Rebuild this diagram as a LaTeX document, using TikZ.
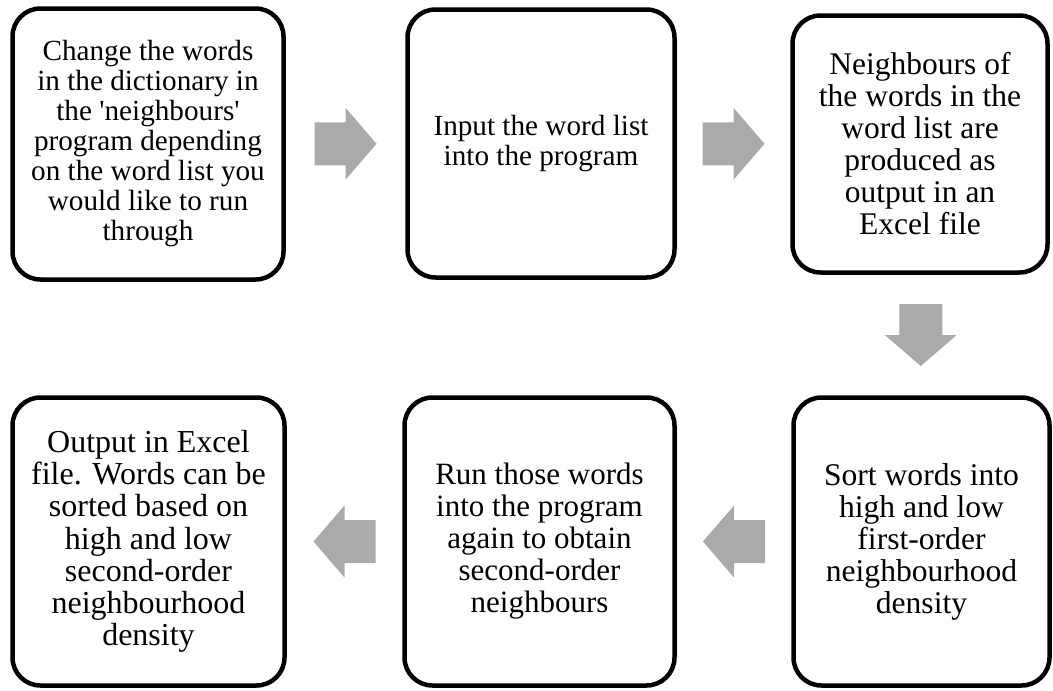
\documentclass[tikz,border=0pt]{standalone}
\usepackage{fontspec}
\setmainfont{Liberation Serif}
\usetikzlibrary{calc}

\begin{document}
\begin{tikzpicture}[x=1pt,y=-1pt,
  stepbox/.style={draw,line width=4.5pt,rounded corners=28pt,align=center,inner sep=0pt},
  blockarrow/.pic={\fill[arrowgray] (-31,-21.5) -- (0,-21.5) -- (0,-36) -- (31,0)
    -- (0,36) -- (0,21.5) -- (-31,21.5) -- cycle;}]
\definecolor{arrowgray}{HTML}{AAAAAA}
\useasboundingbox (0,0) rectangle (1053,691);
\node [stepbox,minimum width=271pt,minimum height=271pt,font=\fontsize{29.2}{30}\selectfont] (change) at (148,144)
  {Change the words\\in the dictionary in\\the \textquotesingle neighbours\textquotesingle\\program depending\\on the word list you\\would like to run\\through};
\node [stepbox,minimum width=267pt,minimum height=268pt,font=\fontsize{29.2}{29.5}\selectfont] (input) at (541,143.5)
  {Input the word list\\into the program};
\node [stepbox,minimum width=255pt,minimum height=257pt,font=\fontsize{31.5}{32}\selectfont] (neighbours) at (920,144)
  {Neighbours of\\the words in the\\word list are\\produced as\\output in an\\Excel file};
\node [stepbox,minimum width=256pt,minimum height=288pt,font=\fontsize{31.6}{32}\selectfont] (sortwords) at (921.5,541.5)
  {Sort words into\\high and low\\first-order\\neighbourhood\\density};
\node [stepbox,minimum width=270pt,minimum height=288pt,font=\fontsize{31}{32}\selectfont] (rerun) at (539.5,541.5)
  {Run those words\\into the program\\again to obtain\\second-order\\neighbours};
\node [stepbox,minimum width=272pt,minimum height=288pt,font=\fontsize{32}{32.2}\selectfont] (output) at (148.5,541.5)
  {Output in Excel\\file. Words can be\\sorted based on\\high and low\\second-order\\neighbourhood\\density};
  \foreach \from/\to/\ang in {change.east/input.west/0,input.east/neighbours.west/0,
    neighbours.south/sortwords.north/-90,sortwords.west/rerun.east/180,rerun.west/output.east/180}
  {  \pic [rotate=\ang] at ($(\from)!0.5!(\to)$) {blockarrow};}
\end{tikzpicture}
\end{document}
